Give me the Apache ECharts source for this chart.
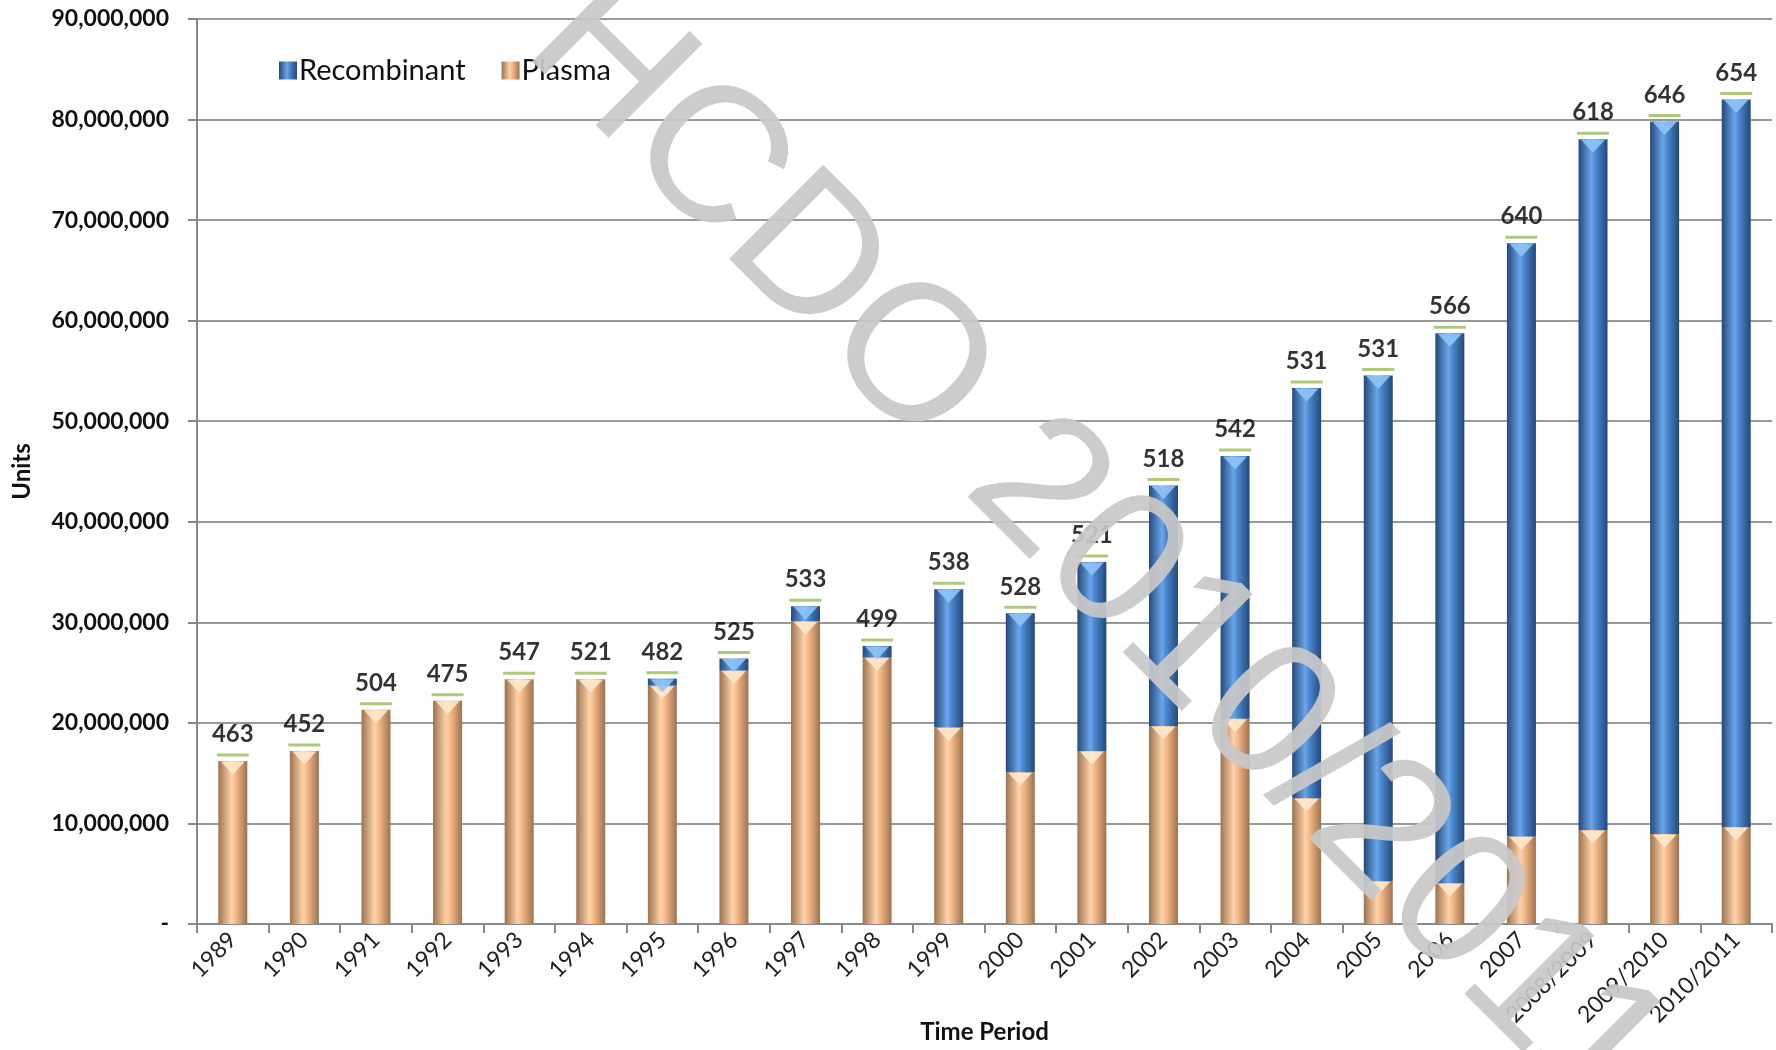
<!DOCTYPE html>
<html>
<head>
<meta charset="utf-8">
<script src="https://cdn.jsdelivr.net/npm/echarts@6/dist/echarts.min.js"></script>
<style>
  html, body { margin: 0; padding: 0; background: #fff; }
  #main { width: 1776px; height: 1050px; }
</style>
</head>
<body>
<div id="main"></div>
<script>
// time periods on the x axis
const periods = ['1989', '1990', '1991', '1992', '1993', '1994', '1995', '1996', '1997', '1998',
  '1999', '2000', '2001', '2002', '2003', '2004', '2005', '2006', '2007',
  '2008/2009', '2009/2010', '2010/2011'];

// units
const plasma = [16200000, 17200000, 21300000, 22200000, 24350000, 24350000, 23700000, 25200000,
  30100000, 26500000, 19550000, 15100000, 17200000, 19700000, 20400000, 12500000, 4250000,
  4050000, 8700000, 9350000, 8950000, 9650000];
const recombinant = [0, 0, 0, 0, 0, 0, 700000, 1200000, 1500000, 1150000, 13750000, 15800000,
  18800000, 23900000, 26150000, 40800000, 50300000, 54700000, 59000000, 68700000, 70850000,
  72350000];

// numbers printed above each bar
const counts = [463, 452, 504, 475, 547, 521, 482, 525, 533, 499, 538, 528, 521, 518, 542, 531,
  531, 566, 640, 618, 646, 654];

const totals = plasma.map((p, i) => p + recombinant[i]);
const blueTops = recombinant.map((r, i) => r > 0 ? totals[i] : null);

const font = 'Lato, "Open Sans", sans-serif';

function cylinder(edge, mid, light) {
  return new echarts.graphic.LinearGradient(0, 0, 1, 0, [
    { offset: 0, color: edge },
    { offset: 0.45, color: light },
    { offset: 0.6, color: mid },
    { offset: 1, color: edge }
  ]);
}

// little bevel triangle at the top of each bar segment
function bevel(name, data, color) {
  return {
    name: name, type: 'scatter', silent: true,
    symbol: 'triangle', symbolRotate: 180, symbolSize: [24, 13], symbolOffset: [0, 7],
    itemStyle: { color: color, opacity: 0.9 },
    data: data, z: 3
  };
}

const chart = echarts.init(document.getElementById('main'));

const option = {
  animation: false,
  grid: { left: 197, right: 4, top: 19, bottom: 126, containLabel: false, outerBoundsMode: 'none' },
  legend: {
    data: ['Recombinant', 'Plasma'],
    left: 274, top: 51,
    icon: 'rect', itemWidth: 18, itemHeight: 18, itemGap: 36,
    textStyle: { fontFamily: font, fontSize: 29, color: '#111', padding: [0, 0, 0, -3] }
  },
  xAxis: {
    type: 'category',
    data: periods,
    name: 'Time Period',
    nameLocation: 'middle',
    nameGap: 96,
    nameMoveOverlap: false,
    nameTextStyle: { fontFamily: font, fontWeight: 'bold', fontSize: 24, color: '#111' },
    axisLine: { lineStyle: { color: '#888', width: 2 } },
    axisTick: { show: true, length: 9, lineStyle: { color: '#888', width: 2 } },
    axisLabel: { rotate: 45, fontFamily: font, fontSize: 23, color: '#222', margin: 12 }
  },
  yAxis: {
    type: 'value',
    min: 0, max: 90000000, interval: 10000000,
    name: 'Units',
    nameLocation: 'middle',
    nameGap: 163,
    nameMoveOverlap: false,
    nameTextStyle: { fontFamily: font, fontWeight: 'bold', fontSize: 24, color: '#111' },
    axisLine: { show: true, lineStyle: { color: '#888', width: 2 } },
    axisTick: { show: true, length: 9, lineStyle: { color: '#888', width: 2 } },
    splitLine: { lineStyle: { color: '#999', width: 2 } },
    axisLabel: {
      fontFamily: font, fontWeight: 'bold', fontSize: 23, color: '#111', margin: 28,
      formatter: v => v === 0 ? '-' : v.toLocaleString('en-US')
    }
  },
  series: [
    {
      name: 'Plasma', type: 'bar', stack: 'units', barWidth: 29,
      itemStyle: { color: cylinder('#9c7350', '#f6b888', '#ffd3a8') },
      data: plasma
    },
    {
      name: 'Recombinant', type: 'bar', stack: 'units', barWidth: 29,
      itemStyle: { color: cylinder('#24497a', '#4a86cc', '#6ba6ea') },
      data: recombinant
    },
    bevel('plasmaTop', plasma, '#ffe8cc'),
    bevel('recombTop', blueTops, '#8fc3f7'),
    {
      name: 'count', type: 'scatter', silent: true,
      symbol: 'rect', symbolSize: [32, 3], symbolOffset: [0, -6],
      itemStyle: { color: '#9bbb59' },
      label: {
        show: true, position: 'top', distance: 7,
        fontFamily: font, fontWeight: 'bold', fontSize: 24, color: '#000',
        formatter: p => counts[p.dataIndex]
      },
      data: totals, z: 5
    }
  ],
  graphic: [{
    type: 'text',
    x: 1096, y: 550,
    rotation: -45 * Math.PI / 180,
    z: 100,
    style: {
      text: 'HCDO 2010/2011',
      fontFamily: '"Liberation Sans", Arial, sans-serif',
      fontSize: 193,
      fill: 'rgba(200,200,200,0.93)',
      align: 'center', verticalAlign: 'middle'
    }
  }]
};

chart.setOption(option);
</script>
</body>
</html>
